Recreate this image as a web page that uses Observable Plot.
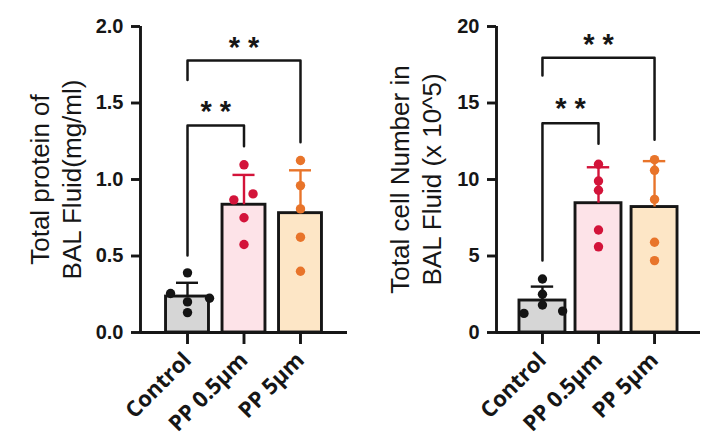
<!DOCTYPE html>
<html><head><meta charset="utf-8">
<script src="https://cdn.jsdelivr.net/npm/d3@7"></script>
<script src="https://cdn.jsdelivr.net/npm/@observablehq/plot@0.6"></script>
<style>
body{margin:0;background:#fff;}
#wrap{display:flex;width:721px;height:446px;overflow:hidden;}
</style></head><body><div id="wrap"></div>
<script>
const categories = ["Control", "PP 0.5µm", "PP 5µm"];
const barFills = ["#d6d6d6", "#fde3e8", "#fde6c6"];
const dotColors = ["#141414", "#d3143a", "#e8742a"];

// Left panel: total protein (mg/ml)
const proteinTitle = "Total protein of\nBAL Fluid(mg/ml)";
const proteinTicks = [0, 0.5, 1.0, 1.5, 2.0];
const proteinMean = [0.235, 0.835, 0.78];
const proteinSD = [0.09, 0.195, 0.28];
const proteinPoints = [
  [0.39, 0.255, 0.20, 0.224, 0.13],
  [1.096, 0.906, 0.867, 0.75, 0.575],
  [1.124, 0.96, 0.808, 0.623, 0.40]
];
const proteinSpread = [
  [0, -0.3, 0, 0.39, 0],
  [0, 0.16, -0.18, 0, 0],
  [0, 0, 0, 0, 0]
];
const proteinBrackets = [
  {a: 0, b: 1, top: 1.353, legA: 0.503, legB: 1.218, star: 1.444},
  {a: 0, b: 2, top: 1.778, legA: 1.65, legB: 1.244, star: 1.863}
];

// Right panel: total cell number (x 10^5)
const cellTitle = "Total cell Number in\nBAL Fluid (x 10^5)";
const cellTicks = [0, 5, 10, 15, 20];
const cellMean = [2.09, 8.45, 8.2];
const cellSD = [0.91, 2.35, 3.0];
const cellPoints = [
  [3.5, 2.5, 1.8, 1.25, 1.4],
  [11.0, 9.9, 9.3, 6.7, 5.6],
  [11.3, 10.6, 8.7, 5.9, 4.7]
];
const cellSpread = [
  [0, 0, 0, -0.33, 0.36],
  [0, 0, 0, 0, 0],
  [0, 0, 0, 0, 0]
];
const cellBrackets = [
  {a: 0, b: 1, top: 13.68, legA: 4.71, legB: 12.33, star: 14.6},
  {a: 0, b: 2, top: 17.95, legA: 16.8, legB: 12.59, star: 18.8}
];

function panel(o) {
  const bars = categories.map((c, i) => ({i, c, mean: o.mean[i], sd: o.sd[i]}));
  const pts = [];
  o.points.forEach((arr, i) => arr.forEach((v, k) => pts.push({i, v, j: o.spread[i][k]})));
  const lines = [];
  o.brackets.forEach((b, n) => {
    lines.push({n, x: b.a, y: b.legA}, {n, x: b.a, y: b.top}, {n, x: b.b, y: b.top}, {n, x: b.b, y: b.legB});
  });
  const pad = o.pad;
  return Plot.plot({
    width: o.width,
    height: 446,
    marginLeft: o.marginLeft,
    marginRight: o.marginRight,
    marginTop: 26,
    marginBottom: 114,
    style: {fontFamily: "Liberation Sans, Arial, sans-serif", color: "#111", background: "#fff", overflow: "visible"},
    x: {domain: [-pad, 2 + pad], axis: null},
    y: {domain: [o.ticks[0], o.ticks[o.ticks.length - 1]], axis: null},
    marks: [
      Plot.rectY(bars, {x1: d => d.i - o.half, x2: d => d.i + o.half, y1: d => 0, y2: "mean",
        fill: d => barFills[d.i], stroke: "#161616", strokeWidth: 2.9}),
      Plot.ruleX(bars, {x: "i", y1: "mean", y2: d => d.mean + d.sd, stroke: d => dotColors[d.i], strokeWidth: 2.4}),
      Plot.ruleY(bars, {y: d => d.mean + d.sd, x1: d => d.i - o.cap, x2: d => d.i + o.cap, stroke: d => dotColors[d.i], strokeWidth: 2.4}),
      Plot.dot(pts, {x: d => d.i + d.j, y: "v", r: 4.7, fill: d => dotColors[d.i], stroke: "none"}),
      Plot.line(lines, {x: "x", y: "y", z: "n", stroke: "#161616", strokeWidth: 2.5, curve: "linear"}),
      Plot.text(o.brackets, {x: d => (d.a + d.b) / 2, y: "star", text: () => "* *", fontSize: 29, fontWeight: "bold", fill: "#161616", lineAnchor: "middle"}),
      Plot.ruleX([-pad], {stroke: "#161616", strokeWidth: 2.9}),
      Plot.ruleY([0], {stroke: "#161616", strokeWidth: 2.9}),
      Plot.axisY({ticks: o.ticks, tickFormat: o.fmt, tickSize: 9, tickPadding: 8, fontSize: 20, fontWeight: "bold",
        strokeWidth: 2.9, stroke: "#161616", fill: "#161616", label: null}),
      Plot.axisX({ticks: [0, 1, 2], tickFormat: i => categories[i], tickRotate: -45, tickSize: 12, tickPadding: 12,
        fontSize: 22, fontWeight: "bold", fontFamily: "Open Sans, sans-serif", strokeWidth: 2.9, stroke: "#161616", fill: "#161616", label: null}),
      Plot.text([o.title], {frameAnchor: "left", rotate: -90, dx: o.titleDx, lineHeight: 1.23, fontSize: o.titleSize,
        fill: "#161616", lineAnchor: "middle", textAnchor: "middle", letterSpacing: o.letterSpacing})
    ]
  });
}

const wrap = document.getElementById("wrap");
wrap.appendChild(panel({
  width: 360, marginLeft: 140, marginRight: 13, pad: 0.832, half: 0.38, cap: 0.195,
  mean: proteinMean, sd: proteinSD, points: proteinPoints, spread: proteinSpread, brackets: proteinBrackets,
  ticks: proteinTicks, fmt: d => d.toFixed(1), title: proteinTitle, titleDx: -86, titleSize: 26, letterSpacing: "1.2px"
}));
wrap.appendChild(panel({
  width: 361, marginLeft: 136, marginRight: 21, pad: 0.82, half: 0.41, cap: 0.2,
  mean: cellMean, sd: cellSD, points: cellPoints, spread: cellSpread, brackets: cellBrackets,
  ticks: cellTicks, fmt: d => String(d), title: cellTitle, titleDx: -81.5, titleSize: 26, letterSpacing: "0px"
}));
</script></body></html>
